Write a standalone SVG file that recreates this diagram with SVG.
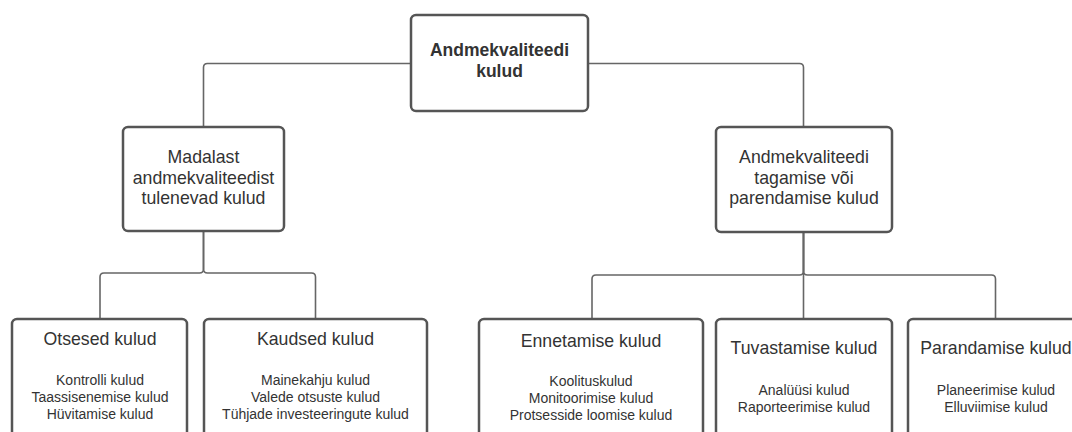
<svg xmlns="http://www.w3.org/2000/svg" width="1072" height="432" viewBox="0 0 1072 432">
  <style>
    .box { fill: #ffffff; stroke: #555555; stroke-width: 2.5; }
    .wire { fill: none; stroke: #666666; stroke-width: 1.6; }
    text { font-family: "Liberation Sans", Arial, sans-serif; fill: #333333; text-anchor: middle; }
    .root { font-size: 17.5px; font-weight: bold; }
    .head { font-size: 17.7px; }
    .item { font-size: 14px; }
  </style>
  <rect width="1072" height="432" fill="#ffffff"/>

  <!-- connectors -->
  <g id="connectors">
    <path class="wire" d="M411,63.5 H207.5 Q203.5,63.5 203.5,67.5 V127"/>
    <path class="wire" d="M588,63.5 H799.5 Q803.5,63.5 803.5,67.5 V127"/>
    <path class="wire" d="M203.5,231 V269 Q203.5,273 199.5,273 H104 Q100,273 100,277 V319"/>
    <path class="wire" d="M203.5,231 V269 Q203.5,273 207.5,273 H311.5 Q315.5,273 315.5,277 V319"/>
    <path class="wire" d="M803.5,232 V271 Q803.5,275 799.5,275 H596 Q592,275 592,279 V319"/>
    <path class="wire" d="M803.5,232 V319"/>
    <path class="wire" d="M803.5,232 V271 Q803.5,275 807.5,275 H991.5 Q995.5,275 995.5,279 V319"/>
  </g>

  <g id="root">
    <rect class="box" x="411" y="15" width="177" height="96" rx="5"/>
    <text class="root" x="499.5" y="56">Andmekvaliteedi</text>
    <text class="root" x="499.5" y="77">kulud</text>
  </g>

  <g id="madalast">
    <rect class="box" x="123" y="127" width="161" height="104" rx="5"/>
    <text class="head" x="203.5" y="163">Madalast</text>
    <text class="head" x="203.5" y="183.5">andmekvaliteedist</text>
    <text class="head" x="203.5" y="204">tulenevad kulud</text>
  </g>

  <g id="tagamise">
    <rect class="box" x="716" y="127" width="176" height="105" rx="5"/>
    <text class="head" x="804" y="163">Andmekvaliteedi</text>
    <text class="head" x="804" y="183.5">tagamise või</text>
    <text class="head" x="804" y="204">parendamise kulud</text>
  </g>

  <g id="otsesed">
    <rect class="box" x="12" y="319" width="175" height="140" rx="5"/>
    <text class="head" x="100" y="345">Otsesed kulud</text>
    <text class="item" x="100" y="385">Kontrolli kulud</text>
    <text class="item" x="100" y="402">Taassisenemise kulud</text>
    <text class="item" x="100" y="419">Hüvitamise kulud</text>
  </g>

  <g id="kaudsed">
    <rect class="box" x="204" y="319" width="223" height="140" rx="5"/>
    <text class="head" x="315.5" y="345">Kaudsed kulud</text>
    <text class="item" x="315.5" y="385">Mainekahju kulud</text>
    <text class="item" x="315.5" y="402">Valede otsuste kulud</text>
    <text class="item" x="315.5" y="419">Tühjade investeeringute kulud</text>
  </g>

  <g id="ennetamise">
    <rect class="box" x="479" y="319" width="224" height="140" rx="5"/>
    <text class="head" x="591" y="347">Ennetamise kulud</text>
    <text class="item" x="591" y="386">Koolituskulud</text>
    <text class="item" x="591" y="403">Monitoorimise kulud</text>
    <text class="item" x="591" y="420">Protsesside loomise kulud</text>
  </g>

  <g id="tuvastamise">
    <rect class="box" x="716" y="319" width="176" height="140" rx="5"/>
    <text class="head" x="804" y="354">Tuvastamise kulud</text>
    <text class="item" x="804" y="395">Analüüsi kulud</text>
    <text class="item" x="804" y="412">Raporteerimise kulud</text>
  </g>

  <g id="parandamise">
    <rect class="box" x="908" y="319" width="176" height="140" rx="5"/>
    <text class="head" x="996" y="354">Parandamise kulud</text>
    <text class="item" x="996" y="395">Planeerimise kulud</text>
    <text class="item" x="996" y="412">Elluviimise kulud</text>
  </g>
</svg>
